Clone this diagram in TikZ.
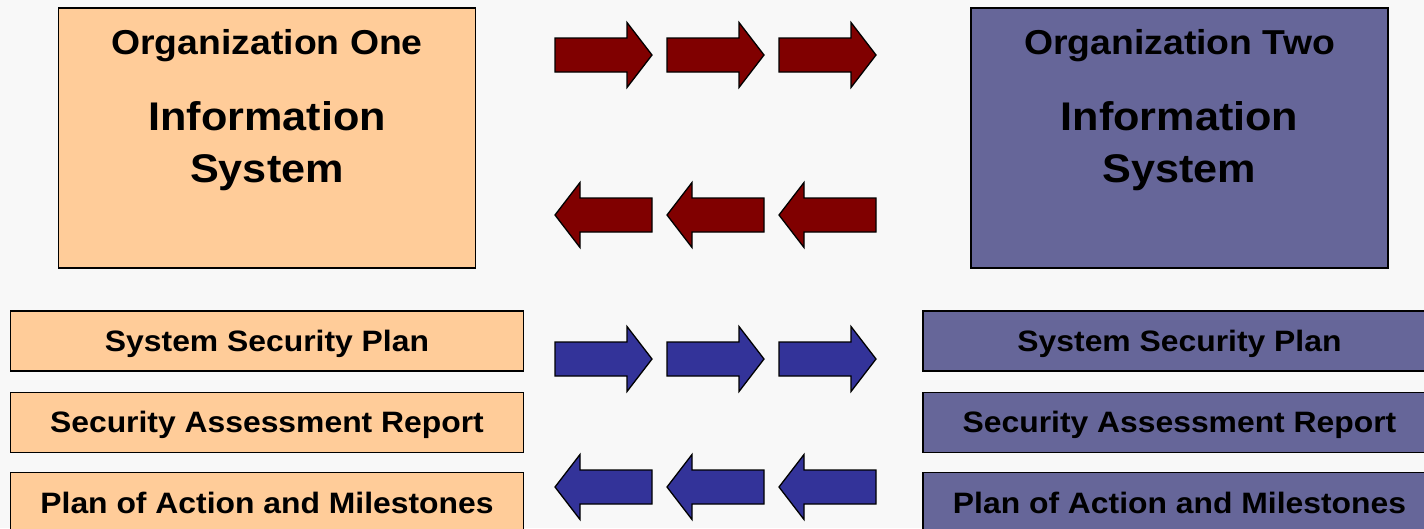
\documentclass[tikz,border=0pt]{standalone}
\usepackage{fontspec}
\newfontfamily\boxfont{Liberation Sans}[FakeStretch=1.08]
\usetikzlibrary{
    positioning   % Required for "below=of" (the document boxes)
}

\definecolor{peach}{HTML}{FFCC99}
\definecolor{slate}{HTML}{666699}
\definecolor{wine}{HTML}{800000}
\definecolor{indigo}{HTML}{333399}
\definecolor{paper}{HTML}{F8F8F8}

\begin{document}
\begin{tikzpicture}[
        x=1pt, y=-1pt,
        % Styles
        sysbox/.style={draw=black, line width=1.3pt, minimum width=417pt, minimum height=260pt, inner sep=0pt},
        docbox/.style={draw=black, line width=1.3pt, minimum width=513pt, minimum height=60pt, inner sep=0pt,
                       text height=21pt, text depth=0pt, font=\boxfont\bfseries\fontsize{29.5}{34}\selectfont},
        orgtext/.style={anchor=base, font=\boxfont\bfseries\fontsize{34.6}{40}\selectfont},
        systext/.style={anchor=base, font=\boxfont\bfseries\fontsize{40}{48}\selectfont},
        fwd/.pic={\draw[line width=1.3pt, pic actions]
            (-48.5,-17) -- (23.5,-17) -- (23.5,-32.5) -- (48.5,0) -- (23.5,32.5) -- (23.5,17) -- (-48.5,17) -- cycle;},
        bwd/.pic={\draw[line width=1.3pt, pic actions]
            (48.5,-17) -- (-23.5,-17) -- (-23.5,-32.5) -- (-48.5,0) -- (-23.5,32.5) -- (-23.5,17) -- (48.5,17) -- cycle;}
    ]

    % --- Canvas ---
    \clip (0,0) rectangle (1424,528);
    \fill[paper] (0,0) rectangle (1424,528);

    % --- 1. The two information systems ---
    \node[sysbox, fill=peach] (OrgOne) at (267,138) {};
    \node[orgtext] (OrgOneName) at (267,54) {Organization One};
    \node[systext] (OrgOneInfo) at (267,130) {Information};
    \node[systext] (OrgOneSys) at (267,182) {System};

    \node[sysbox, fill=slate] (OrgTwo) at (1179.5,138) {};
    \node[orgtext] (OrgTwoName) at (1179.5,54) {Organization Two};
    \node[systext] (OrgTwoInfo) at (1179.5,130) {Information};
    \node[systext] (OrgTwoSys) at (1179.5,182) {System};

    % --- 2. Security documents ---
    \node[docbox, fill=peach] (SSPOne) at (267,341) {System Security Plan};
    \node[docbox, fill=peach, below=20pt of SSPOne] (SAROne) {Security Assessment Report};
    \node[docbox, fill=peach, below=19pt of SAROne] (POAMOne) {Plan of Action and Milestones};

    \node[docbox, fill=slate] (SSPTwo) at (1179.5,341) {System Security Plan};
    \node[docbox, fill=slate, below=20pt of SSPTwo] (SARTwo) {Security Assessment Report};
    \node[docbox, fill=slate, below=19pt of SARTwo] (POAMTwo) {Plan of Action and Milestones};

    % --- 3. Exchange arrows ---
    \foreach \ax in {603.5, 715.5, 827.5} {
        \pic[fill=wine] at (\ax,55) {fwd};
        \pic[fill=wine] at (\ax,215) {bwd};
        \pic[fill=indigo] at (\ax,359) {fwd};
        \pic[fill=indigo] at (\ax,487) {bwd};
    }

\end{tikzpicture}
\end{document}
